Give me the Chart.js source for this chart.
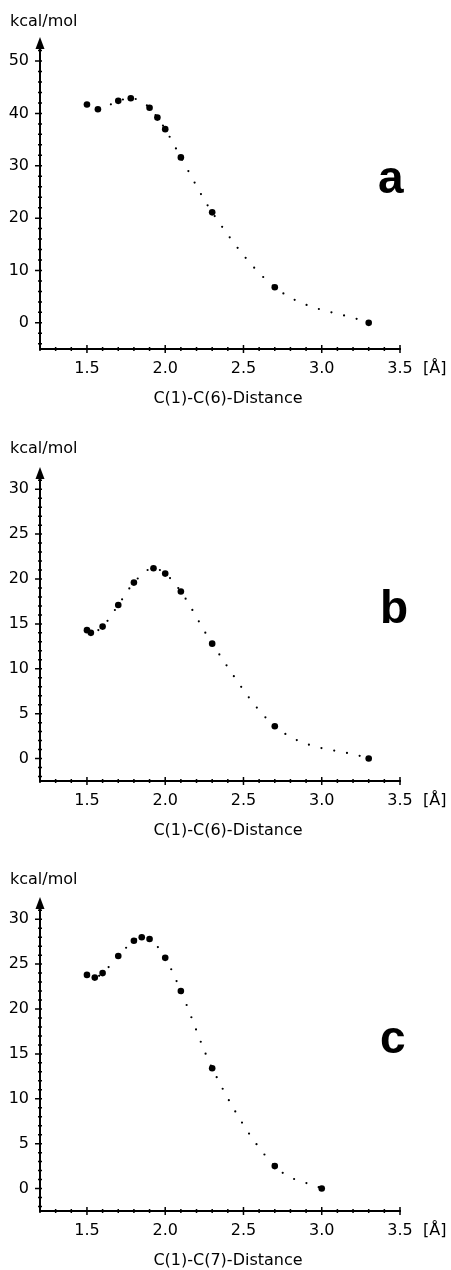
<!DOCTYPE html>
<html>
<head>
<meta charset="utf-8">
<script src="https://cdn.jsdelivr.net/npm/chart.js@4.4.1/dist/chart.umd.min.js"></script>
<style>
  body { margin: 0; background: #fff; }
  .panel { position: absolute; left: 0; }
</style>
</head>
<body>
<canvas id="chartA" class="panel" width="451" height="420" style="top:0px"></canvas>
<canvas id="chartB" class="panel" width="451" height="420" style="top:420px"></canvas>
<canvas id="chartC" class="panel" width="451" height="430" style="top:840px"></canvas>
<script>
// values
const distA = [1.5, 1.57, 1.7, 1.78, 1.9, 1.95, 2.0, 2.1, 2.3, 2.7, 3.3];
const energyA = [41.7, 40.8, 42.4, 42.9, 41.1, 39.2, 37.0, 31.6, 21.1, 6.8, 0.0];

const distB = [1.5, 1.525, 1.6, 1.7, 1.8, 1.925, 2.0, 2.1, 2.3, 2.7, 3.3];
const energyB = [14.3, 14.0, 14.7, 17.1, 19.6, 21.2, 20.6, 18.6, 12.8, 3.6, 0.0];

const distC = [1.5, 1.55, 1.6, 1.7, 1.8, 1.85, 1.9, 2.0, 2.1, 2.3, 2.7, 3.0];
const energyC = [23.8, 23.5, 24.0, 25.9, 27.6, 28.0, 27.8, 25.7, 22.0, 13.4, 2.5, 0.0];

const xTicks = [1.5, 2.0, 2.5, 3.0, 3.5];
const yTicksA = [0, 10, 20, 30, 40, 50];
const yTicksBC = [0, 5, 10, 15, 20, 25, 30];

const FONT = '"DejaVu Sans", sans-serif';

// ticks, arrow head and labels around the axes
const axisDecor = {
    id: 'axisDecor',
    afterDraw(chart, args, opts) {
        const ctx = chart.ctx;
        const xs = chart.scales.x, ys = chart.scales.y;
        const { left, top, bottom } = chart.chartArea;
        ctx.save();
        ctx.strokeStyle = '#000';
        ctx.lineWidth = 1.5;
        ctx.beginPath();
        for (let k = Math.ceil(ys.min / opts.yMinor); k * opts.yMinor <= ys.max; k++) {
            const py = ys.getPixelForValue(k * opts.yMinor);
            ctx.moveTo(left - 2, py); ctx.lineTo(left + 2, py);
        }
        opts.yTicks.forEach(v => {
            const py = ys.getPixelForValue(v);
            ctx.moveTo(left - 5, py); ctx.lineTo(left + 2, py);
        });
        for (let k = 12; k <= 35; k++) {
            const px = xs.getPixelForValue(k / 10);
            ctx.moveTo(px, bottom - 2); ctx.lineTo(px, bottom + 2);
        }
        xTicks.forEach(v => {
            const px = xs.getPixelForValue(v);
            ctx.moveTo(px, bottom - 4); ctx.lineTo(px, bottom + 4);
        });
        ctx.stroke();

        // arrow on y axis
        ctx.fillStyle = '#000';
        ctx.beginPath();
        ctx.moveTo(left, top - 11);
        ctx.lineTo(left - 4.5, top + 1);
        ctx.lineTo(left + 4.5, top + 1);
        ctx.closePath();
        ctx.fill();

        ctx.font = '16px ' + FONT;
        ctx.textAlign = 'left';
        ctx.textBaseline = 'alphabetic';
        ctx.fillText('kcal/mol', 10, opts.unitY);
        ctx.textBaseline = 'middle';
        ctx.fillText('[Å]', xs.getPixelForValue(3.5) + 23, bottom + 20);
        ctx.textAlign = 'center';
        ctx.fillText(opts.xTitle, 228, bottom + 50);

        ctx.font = 'bold 46px "Liberation Sans", Arial, sans-serif';
        ctx.textAlign = 'left';
        ctx.textBaseline = 'alphabetic';
        ctx.fillText(opts.letter, opts.letterX, opts.letterY);
        ctx.restore();
    }
};

function makeChart(id, p) {
    const pts = p.dist.map((d, i) => ({ x: d, y: p.energy[i] }));
    const ctx = document.getElementById(id).getContext('2d');
    return new Chart(ctx, {
        type: 'scatter',
        data: {
            datasets: [
                {
                    data: pts,
                    showLine: true,
                    pointRadius: 0,
                    borderColor: '#000',
                    borderWidth: 2.2,
                    borderDash: [0, 13],
                    borderCapStyle: 'round',
                    cubicInterpolationMode: 'monotone'
                },
                {
                    data: pts,
                    pointRadius: 3.3,
                    pointBackgroundColor: '#000',
                    pointBorderWidth: 0
                }
            ]
        },
        options: {
            responsive: false,
            animation: false,
            events: [],
            layout: { padding: { left: 0, right: 51, top: p.padTop, bottom: 0 } },
            plugins: {
                legend: { display: false },
                tooltip: { enabled: false },
                axisDecor: p
            },
            scales: {
                x: {
                    min: 1.2,
                    max: 3.5,
                    grid: { display: false, drawTicks: false },
                    border: { display: true, color: '#000', width: 2 },
                    afterBuildTicks: s => { s.ticks = xTicks.map(v => ({ value: v })); },
                    afterFit: s => { s.height = p.axisH; },
                    ticks: {
                        color: '#000',
                        padding: 10,
                        maxRotation: 0,
                        autoSkip: false,
                        font: { family: FONT, size: 16 },
                        callback: v => v.toFixed(1)
                    }
                },
                y: {
                    min: p.yMin,
                    max: p.yMax,
                    grid: { display: false, drawTicks: false },
                    border: { display: true, color: '#000', width: 2 },
                    afterBuildTicks: s => { s.ticks = p.yTicks.map(v => ({ value: v })); },
                    afterFit: s => { s.width = 40; },
                    ticks: {
                        color: '#000',
                        padding: 11,
                        font: { family: FONT, size: 16 }
                    }
                }
            }
        },
        plugins: [axisDecor]
    });
}

makeChart('chartA', {
    dist: distA, energy: energyA, yMin: -5, yMax: 52.5, yTicks: yTicksA, yMinor: 2,
    padTop: 48, axisH: 71, unitY: 26, xTitle: 'C(1)-C(6)-Distance',
    letter: 'a', letterX: 378, letterY: 193
});
makeChart('chartB', {
    dist: distB, energy: energyB, yMin: -2.5, yMax: 31.25, yTicks: yTicksBC, yMinor: 1,
    padTop: 58, axisH: 59, unitY: 33, xTitle: 'C(1)-C(6)-Distance',
    letter: 'b', letterX: 380, letterY: 203
});
makeChart('chartC', {
    dist: distC, energy: energyC, yMin: -2.5, yMax: 31.25, yTicks: yTicksBC, yMinor: 1,
    padTop: 68, axisH: 59, unitY: 44, xTitle: 'C(1)-C(7)-Distance',
    letter: 'c', letterX: 380, letterY: 213
});
</script>
</body>
</html>
